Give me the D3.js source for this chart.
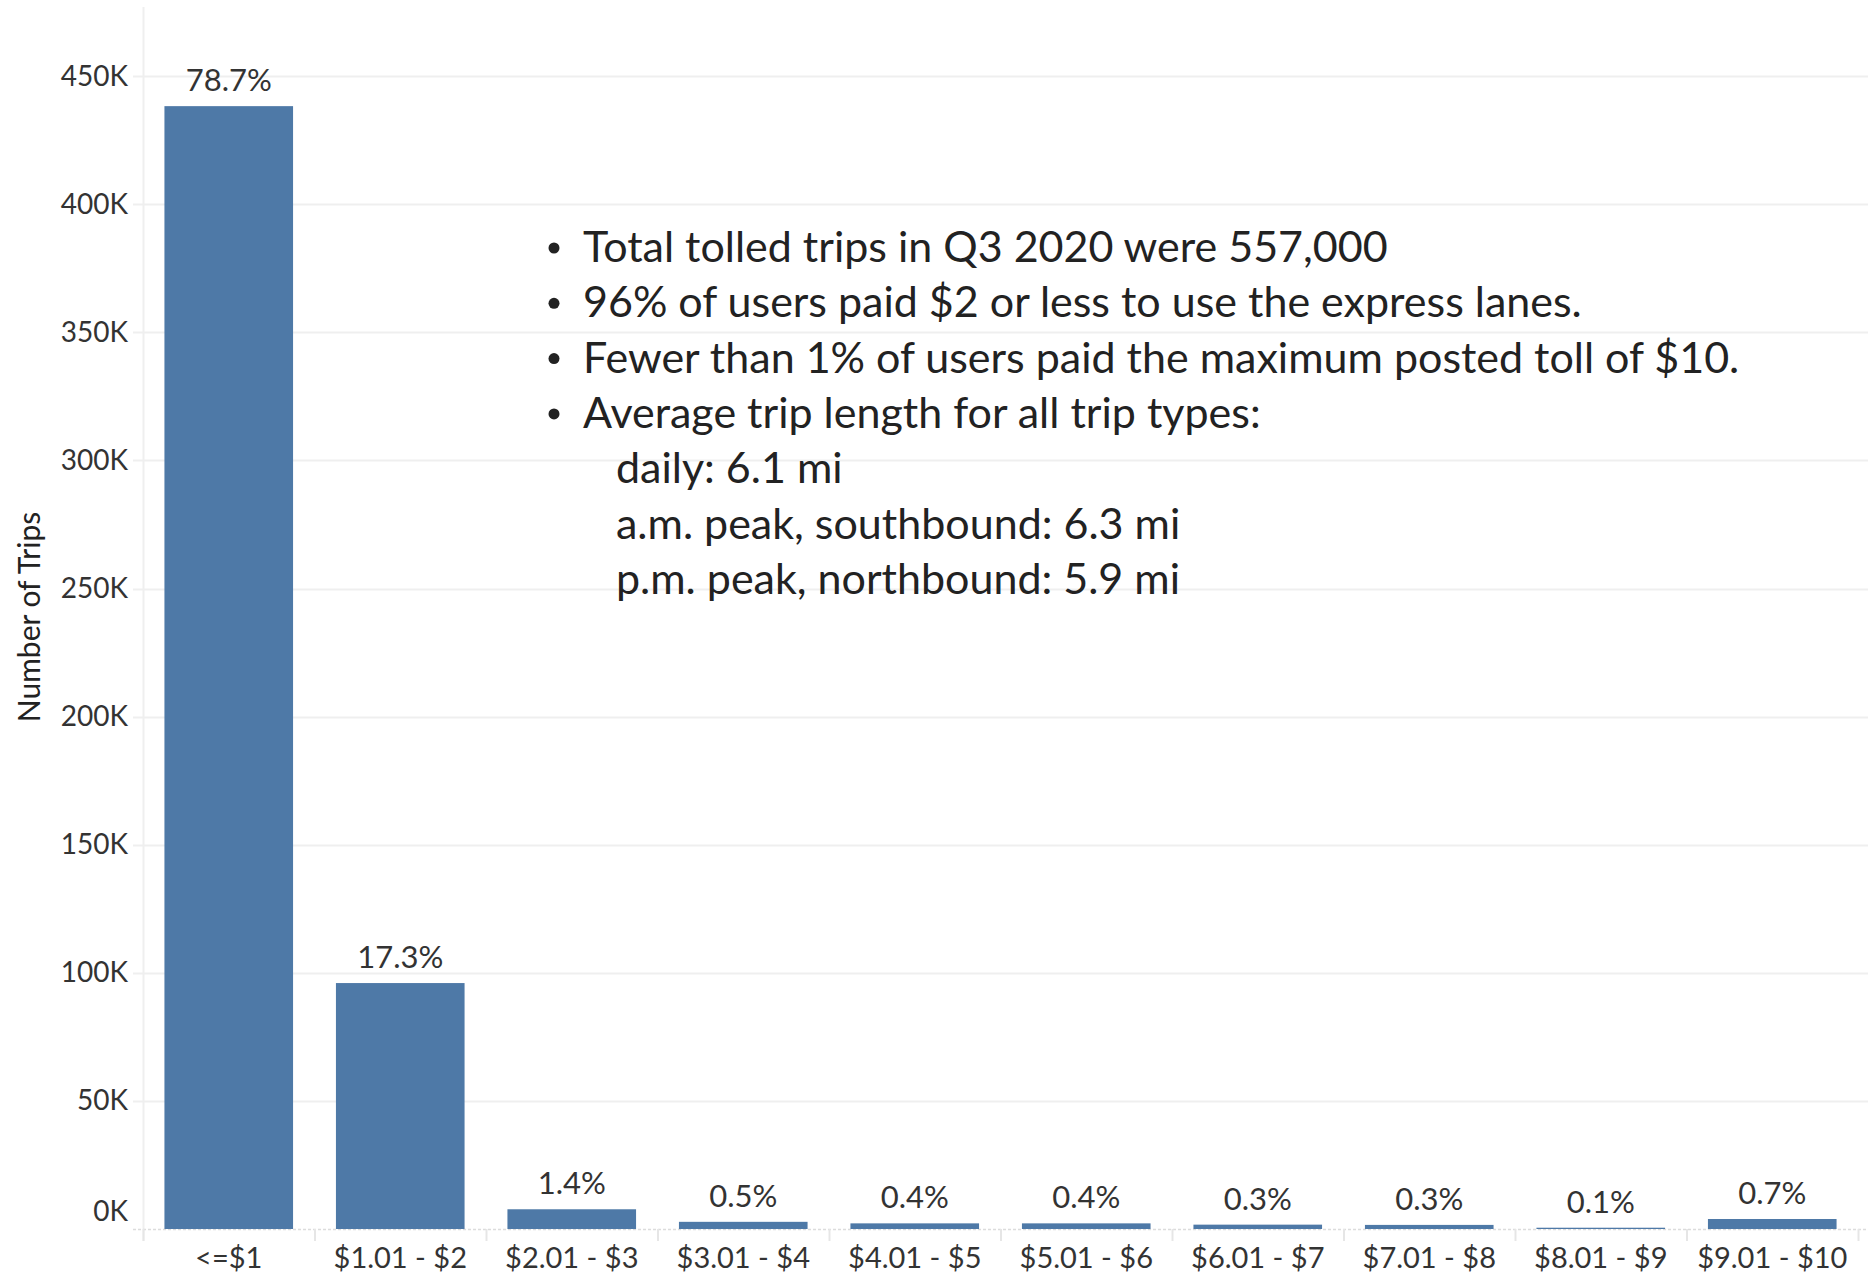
<!DOCTYPE html>
<html>
<head>
<meta charset="utf-8">
<script src="https://cdn.jsdelivr.net/npm/d3@7"></script>
<style>
  html, body { margin: 0; padding: 0; background: #fff; }
  svg { display: block; }
  text { font-family: Lato, "Open Sans", sans-serif; }
</style>
</head>
<body>
<svg id="chart" width="1868" height="1274"></svg>
<script>
// ---- data ----
const categories = ["<=$1", "$1.01 - $2", "$2.01 - $3", "$3.01 - $4", "$4.01 - $5",
                    "$5.01 - $6", "$6.01 - $7", "$7.01 - $8", "$8.01 - $9", "$9.01 - $10"];
const trips = [438300, 96000, 7700, 2800, 2200, 2200, 1700, 1600, 500, 3900];
const pctLabels = ["78.7%", "17.3%", "1.4%", "0.5%", "0.4%", "0.4%", "0.3%", "0.3%", "0.1%", "0.7%"];
const yTicks = [0, 50000, 100000, 150000, 200000, 250000, 300000, 350000, 400000, 450000];
const yTitle = "Number of Trips";
const bullets = [
  "Total tolled trips in Q3 2020 were 557,000",
  "96% of users paid $2 or less to use the express lanes.",
  "Fewer than 1% of users paid the maximum posted toll of $10.",
  "Average trip length for all trip types:"
];
const subLines = [
  "daily: 6.1 mi",
  "a.m. peak, southbound: 6.3 mi",
  "p.m. peak, northbound: 5.9 mi"
];

// ---- layout ----
const W = 1868, H = 1274;
const plot = { left: 143, right: 1858, top: 7, bottom: 1229 };
const barColor = "#4e79a7";
const gridColor = "#efefef";
const textColor = "#333333";

const svg = d3.select("#chart");

const x = d3.scaleBand()
  .domain(categories)
  .range([plot.left, plot.right])
  .paddingInner(0.25)
  .paddingOuter(0.125);

const y = d3.scaleLinear()
  .domain([0, 477000])
  .range([plot.bottom, plot.top]);

// gridlines
svg.append("g").selectAll("line")
  .data(yTicks.filter(d => d > 0))
  .join("line")
  .attr("x1", plot.left - 10)
  .attr("x2", W)
  .attr("y1", d => Math.round(y(d)) + 0.5)
  .attr("y2", d => Math.round(y(d)) + 0.5)
  .attr("stroke", gridColor)
  .attr("stroke-width", 2);

// vertical axis line
svg.append("line")
  .attr("x1", plot.left + 0.5).attr("x2", plot.left + 0.5)
  .attr("y1", plot.top).attr("y2", plot.bottom + 12)
  .attr("stroke", gridColor).attr("stroke-width", 2);

// zero line (dashed)
svg.append("line")
  .attr("x1", plot.left - 10).attr("x2", W)
  .attr("y1", plot.bottom + 0.5).attr("y2", plot.bottom + 0.5)
  .attr("stroke", "#dcdcdc").attr("stroke-width", 1.5)
  .attr("stroke-dasharray", "3,2");

// category separators
const step = x.step();
svg.append("g").selectAll("line")
  .data(d3.range(categories.length + 1))
  .join("line")
  .attr("x1", i => plot.left + i * step + 0.5)
  .attr("x2", i => plot.left + i * step + 0.5)
  .attr("y1", plot.bottom)
  .attr("y2", plot.bottom + 12)
  .attr("stroke", "#e6e6e6").attr("stroke-width", 2);

// y axis labels
const yAxis = d3.axisLeft(y)
  .tickValues(yTicks)
  .tickFormat(d => (d / 1000) + "K")
  .tickSize(0)
  .tickPadding(0);
const gy = svg.append("g")
  .attr("transform", `translate(${plot.left - 15},0)`)
  .call(yAxis);
gy.select(".domain").remove();
gy.selectAll("text")
  .attr("font-size", 28)
  .attr("fill", textColor)
  .attr("font-family", "Lato");
// Tableau lifts the zero label above the baseline
gy.selectAll(".tick").filter(d => d === 0)
  .select("text").attr("dy", "-0.32em");

// x axis labels
const xAxis = d3.axisBottom(x).tickSize(0).tickPadding(0);
const gx = svg.append("g")
  .attr("transform", `translate(0,${plot.bottom + 18})`)
  .call(xAxis);
gx.select(".domain").remove();
gx.selectAll("text")
  .attr("font-size", 29)
  .attr("fill", textColor)
  .attr("font-family", "Lato")
  .attr("dy", "0.71em");

// bars
svg.append("g").selectAll("rect")
  .data(categories)
  .join("rect")
  .attr("x", d => x(d))
  .attr("width", x.bandwidth())
  .attr("y", (d, i) => y(trips[i]))
  .attr("height", (d, i) => y(0) - y(trips[i]))
  .attr("fill", barColor);

// bar labels
svg.append("g").selectAll("text")
  .data(categories)
  .join("text")
  .attr("x", d => x(d) + x.bandwidth() / 2)
  .attr("y", (d, i) => y(trips[i]) - 15)
  .attr("text-anchor", "middle")
  .attr("font-size", 31)
  .attr("fill", textColor)
  .text((d, i) => pctLabels[i]);

// y title
svg.append("text")
  .attr("transform", `translate(40,617) rotate(-90)`)
  .attr("text-anchor", "middle")
  .attr("font-size", 30)
  .attr("fill", "#222")
  .text(yTitle);

// annotation
const ann = svg.append("g");
const lineH = 55.3;
const baseY = 262;
const annSize = 43;
bullets.forEach((t, i) => {
  ann.append("circle")
    .attr("cx", 554).attr("cy", baseY + i * lineH - 14)
    .attr("r", 5.5).attr("fill", "#222");
  ann.append("text")
    .attr("x", 583).attr("y", baseY + i * lineH)
    .attr("font-size", annSize)
    .attr("fill", "#222")
    .text(t);
});
subLines.forEach((t, i) => {
  ann.append("text")
    .attr("x", 616).attr("y", baseY + (bullets.length + i) * lineH)
    .attr("font-size", annSize)
    .attr("fill", "#222")
    .text(t);
});
</script>
</body>
</html>
